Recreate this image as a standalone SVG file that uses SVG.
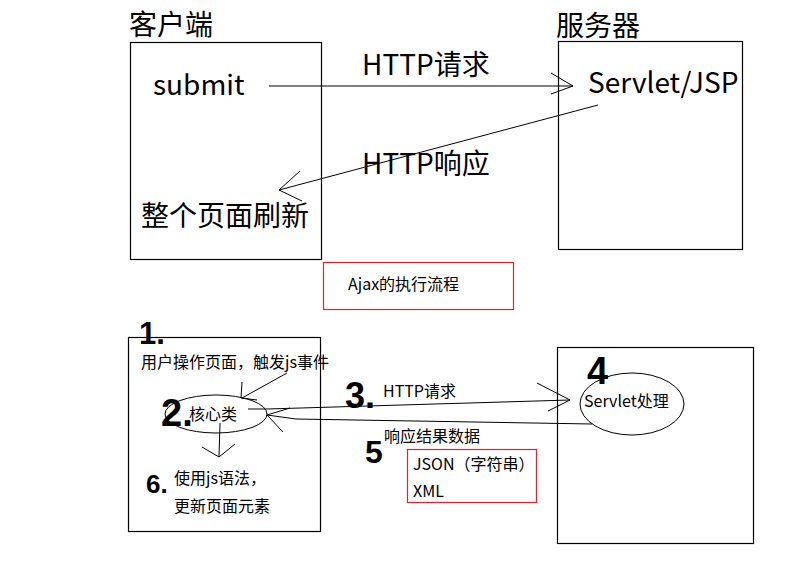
<svg xmlns="http://www.w3.org/2000/svg" width="805" height="568" viewBox="0 0 805 568">
<style>
.t{font-family:"Noto Sans CJK SC","Microsoft YaHei","Noto Sans",sans-serif;fill:#000}
.big{font-size:28px}
.sm{font-size:16px}
.box{fill:none;stroke:#000;stroke-width:1.2}
.red{fill:none;stroke:#e8202a;stroke-width:1.2}
.ln{fill:none;stroke:#000;stroke-width:1}
.num{font-family:"Liberation Sans",Arial,sans-serif;font-weight:bold;fill:#000}
</style>
<rect width="805" height="568" fill="#fff"/>
<g id="client">
<text class="t big" x="129" y="35">客户端</text>
<rect class="box" x="130.5" y="42.5" width="191" height="217"/>
<text class="t big" x="153" y="95">submit</text>
<text class="t big" x="141" y="226">整个页面刷新</text>
</g>
<g id="server">
<text class="t big" x="556" y="36">服务器</text>
<rect class="box" x="558.5" y="41.5" width="184" height="208"/>
<text class="t big" x="588" y="93">Servlet/JSP</text>
</g>
<g id="title">
<rect class="red" x="323.5" y="262.5" width="190" height="47"/>
<text class="t sm" x="348" y="290">Ajax的执行流程</text>
</g>
<g id="client2">
<rect class="box" x="128.5" y="337.5" width="192" height="194"/>
<text class="t sm" x="141" y="368">用户操作页面，触发js事件</text>
<text class="t sm" x="174" y="484">使用js语法，</text>
<text class="t sm" x="174" y="512">更新页面元素</text>
</g>
<g id="core">
<ellipse class="ln" cx="216" cy="414" rx="51" ry="19"/>
<text class="t sm" x="189" y="420">核心类</text>
</g>
<g id="server2">
<rect class="box" x="557.5" y="347.5" width="196" height="196"/>
<ellipse class="ln" cx="632" cy="404" rx="52" ry="31"/>
<text class="t sm" x="584" y="407">Servlet处理</text>
</g>
<g id="data">
<rect class="red" x="407.5" y="449.5" width="129" height="53"/>
<text class="t sm" x="413" y="470">JSON（字符串）</text>
<text class="t sm" x="413" y="497">XML</text>
</g>
<g id="labels">
<text class="t big" x="362" y="75">HTTP请求</text>
<text class="t big" x="362" y="174">HTTP响应</text>
<text class="t sm" x="383" y="397">HTTP请求</text>
<text class="t sm" x="384" y="442">响应结果数据</text>
</g>
<g id="numbers">
<text class="num" x="139" y="344" font-size="31">1.</text>
<text class="num" x="161" y="426" font-size="38">2.</text>
<text class="num" x="345" y="408" font-size="36">3.</text>
<text class="num" x="587" y="384" font-size="38">4</text>
<text class="num" x="365" y="463" font-size="32">5</text>
<text class="num" x="146" y="493" font-size="26">6.</text>
</g>
<g id="connectors">
<path class="ln" d="M269 86 L573 86 M551 73 L573 86 L551 94"/>
<path class="ln" d="M598 105 L279 190 M300 171 L279 190 L302 201"/>
<path class="ln" d="M287 373 L242 398 M242 382 L241 398 L257 400"/>
<path class="ln" d="M220 423 L219 457 M202 447 L219 457 L235 444"/>
<path class="ln" d="M248 409 L267 409 L570 400 M537 383 L570 400 L548 411"/>
<path class="ln" d="M592 424 L296 419 L267 415 M267 415 L290 408 M267 415 L283 432"/>
</g>
</svg>
